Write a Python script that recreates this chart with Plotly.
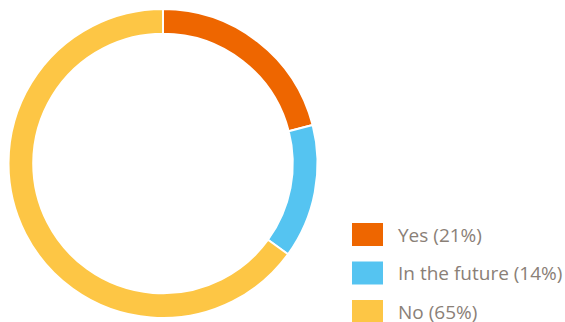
import plotly.graph_objects as go

labels = ["Yes", "In the future", "No"]
values = [21, 14, 65]
colors = ["#EE6600", "#55C4F1", "#FDC645"]

W, H = 565, 322

fig = go.Figure(go.Pie(
    labels=labels,
    values=values,
    hole=0.84,
    sort=False,
    direction="clockwise",
    rotation=0,
    marker=dict(colors=colors, line=dict(color="white", width=2)),
    textinfo="none",
    hoverinfo="label+percent",
    showlegend=False,
    domain=dict(x=[8 / W, 318 / W], y=[4 / H, 313 / H]),
))

# custom legend built from the data lists
shapes = []
annotations = []
total = sum(values)
for i, (lab, val, col) in enumerate(zip(labels, values, colors)):
    top = 223 + i * 38.5
    bot = top + 23
    shapes.append(dict(type="rect", xref="paper", yref="paper",
                       x0=352 / W, x1=383 / W, y0=(H - bot) / H, y1=(H - top) / H,
                       fillcolor=col, line=dict(width=0)))
    annotations.append(dict(xref="paper", yref="paper", x=396 / W, y=(H - (top + bot) / 2) / H,
                            xanchor="left", yanchor="middle", showarrow=False,
                            text=f"{lab} ({round(val / total * 100)}%)",
                            font=dict(family="Open Sans", size=19, color="#8a8077")))

fig.update_layout(
    width=W, height=H,
    margin=dict(l=0, r=0, t=0, b=0),
    paper_bgcolor="white", plot_bgcolor="white",
    shapes=shapes, annotations=annotations,
)

fig.write_html("out.html")
